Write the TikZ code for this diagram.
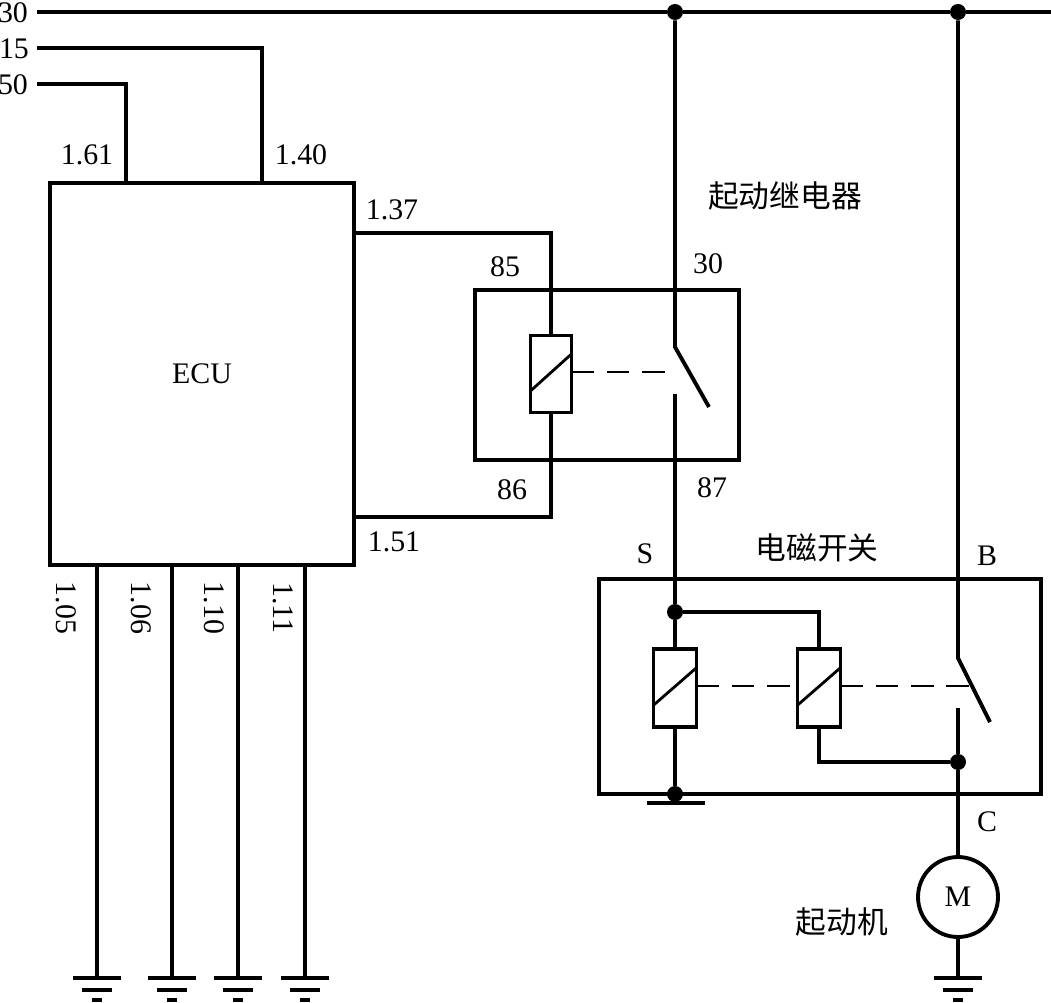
\documentclass[tikz,border=0pt]{standalone}
\usepackage{fontspec}
\setmainfont{Liberation Serif}
\newfontfamily\cjk{Noto Sans CJK SC}
\usetikzlibrary{calc}
\tikzset{
  wire/.style={line width=2.2pt},
  box/.style={draw, line width=2.2pt, inner sep=0pt, outer sep=0pt, font=\fontsize{17}{20}\selectfont},
  coil/.style={draw, line width=2.2pt, minimum width=0.82cm, minimum height=1.54cm, inner sep=0pt, outer sep=0pt},
  dot/.style={circle, fill, inner sep=0pt, minimum size=0.32cm},
  link/.style={line width=1.5pt, dash pattern=on 13pt off 7pt},
  lbl/.style={inner sep=0pt, font=\fontsize{17}{20}\selectfont},
  cn/.style={inner sep=0pt, font=\cjk\fontsize{17.5}{20}\selectfont},
  earth/.pic={
    \draw[wire] (-24,0) -- (24,0);
    \draw[wire] (-15,12) -- (15,12);
    \draw[wire] (-5,22) -- (5,22);
  }
}
\begin{document}
\begin{tikzpicture}[x=0.02cm,y=-0.02cm]
  \useasboundingbox (0,0) rectangle (1051,1003);

  % Supply lines 30, 15, 50
  \coordinate (b30) at (37,12);
  \coordinate (b30end) at (1051,12);
  \coordinate (b15) at (37,48);
  \coordinate (b50) at (37,84);
  \node[dot] (J1) at (675,12) {};
  \node[dot] (J2) at (958,12) {};
  \draw[wire] (b30) -- (J1) -- (J2) -- (b30end);
  \node[lbl] (t30) at (13,13) {30};
  \node[lbl] (t15) at (14,49) {15};
  \node[lbl] (t50) at (13,85) {50};

  % ECU
  \node[box, minimum width=6.08cm, minimum height=7.64cm] (ECU) at (202,374) {ECU};
  \coordinate (p161) at (126,183);
  \coordinate (p140) at (262,183);
  \coordinate (p137) at (354,233);
  \coordinate (p151) at (354,517);
  \draw[wire] (b50) -| (p161);
  \draw[wire] (b15) -| (p140);
  \node[lbl] (t161) at (87,155) {1.61};
  \node[lbl] (t140) at (301,155) {1.40};
  \node[lbl] (t137) at (392,210) {1.37};
  \node[lbl] (t151) at (394,542) {1.51};

  % Starter relay
  \node[box, minimum width=5.28cm, minimum height=3.4cm] (K) at (607,375) {};
  \node[coil] (K1) at (551,374) {};
  \draw[wire] (p137) -| (K1.north);
  \draw[wire] (K1.south) |- (p151);
  \coordinate (k30) at (675,347);
  \coordinate (kblade) at (709,407);
  \coordinate (k87) at (675,394);
  \coordinate (klink) at (668,372);
  \draw[wire] (J1) -- (k30) -- (kblade);
  \draw[link] (K1.east |- klink) -- (klink);
  \node[lbl] (t85) at (505,267) {85};
  \node[lbl] (t30k) at (708,264) {30};
  \node[lbl] (t86) at (512,490) {86};
  \node[lbl] (t87) at (712,488) {87};
  \node[cn] (tK) at (785,196) {起动继电器};

  % Solenoid switch
  \node[box, minimum width=8.84cm, minimum height=4.3cm] (SW) at (820,686.5) {};
  \node[coil, minimum width=0.86cm, minimum height=1.56cm] (S1) at (675,688) {};
  \node[coil, minimum width=0.86cm, minimum height=1.56cm] (S2) at (819,688) {};
  \node[dot] (JS) at (675,612) {};
  \node[dot] (JC) at (958,762) {};
  \node[dot] (JG) at (675,794) {};
  \draw[wire] (k87) -- (JS) -- (S1.north);
  \draw[wire] (JS) -| (S2.north);
  \draw[wire] (S1.south) -- (JG);
  \draw[wire] (S2.south) |- (JC);
  \coordinate (sb) at (958,658);
  \coordinate (sblade) at (990,722);
  \coordinate (sc) at (958,708);
  \coordinate (slink) at (970,686);
  \draw[wire] (J2) -- (sb) -- (sblade);
  \draw[wire] (sc) -- (JC);
  \draw[link] (S1.east |- slink) -- (S2.west |- slink);
  \draw[link] (S2.east |- slink) -- (slink);
  \coordinate (g1) at (647,803);
  \coordinate (g2) at (705,803);
  \draw[wire] (g1) -- (g2);
  \node[lbl] (tS) at (645,554) {S};
  \node[lbl] (tB) at (987,556) {B};
  \node[cn] (tSW) at (817,548) {电磁开关};

  % Coil windings
  \foreach \c in {K1,S1,S2}
    \draw[line width=1.6pt] ($(\c.south west)!0.28!(\c.north west)$) -- ($(\c.south east)!0.76!(\c.north east)$);

  % Starter motor
  \node[circle, draw, line width=2.2pt, minimum size=1.6cm, inner sep=0pt, font=\fontsize{17}{20}\selectfont] (M) at (958,897) {M};
  \coordinate (gM) at (958,978);
  \draw[wire] (JC) -- (M.north);
  \draw[wire] (M.south) -- (gM);
  \pic at (gM) {earth};
  \node[lbl] (tC) at (987,822) {C};
  \node[cn] (tM) at (842,922) {起动机};

  % ECU ground pins
  \foreach \x/\lx/\t in {97/66/1.05, 172/141/1.06, 238/214/1.10, 305/283/1.11} {
    \coordinate (e\x) at (\x,565);
    \coordinate (g\x) at (\x,978);
    \draw[wire] (e\x) -- (g\x);
    \pic at (g\x) {earth};
    \node[lbl, rotate=-90] at (\lx,608) {\t};
  }
\end{tikzpicture}
\end{document}
